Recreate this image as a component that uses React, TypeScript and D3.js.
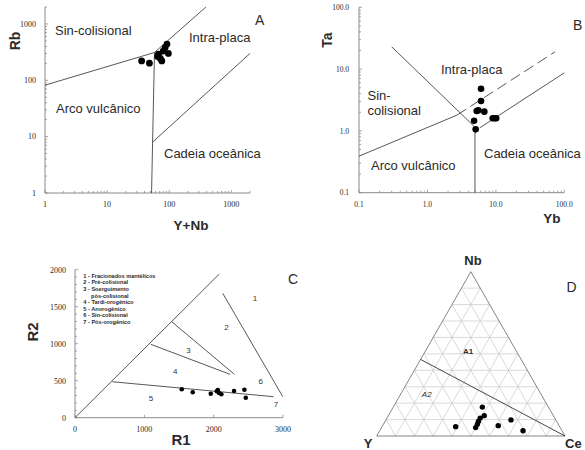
import React from 'react';
import * as d3 from 'd3';

// A: Rb vs Y+Nb
const yNbA = [36, 48, 65, 72, 76, 67, 86, 92, 97, 80];
const rbA = [221, 201, 265, 244, 221, 291, 384, 440, 300, 330];
const linesA: [number, number][][] = [
  [[1, 82], [58, 312]],
  [[58, 312], [390, 2000]],
  [[58, 312], [54, 8], [52, 1]],
  [[54, 8], [2000, 300]],
];

// B: Ta vs Yb
const ybB = [6.07, 6.07, 5.25, 5.54, 4.8, 5.07, 6.78, 9.0, 9.7, 10.1];
const taB = [4.82, 3.05, 2.1, 2.15, 1.46, 1.06, 2.05, 1.6, 1.6, 1.6];
const linesB: [number, number][][] = [
  [[0.1, 0.39], [2.7, 1.8]],
  [[0.3, 23], [4.9, 1.16]],
  [[4.95, 0.1], [4.95, 1.16]],
  [[5.8, 1.12], [100, 8.7]],
];
const dashedB: [number, number][] = [[2.7, 1.8], [73, 19]];

// C: R1-R2
const r1C = [1540, 1698, 1958, 2045, 2059, 2078, 2111, 2294, 2443, 2463];
const r2C = [384, 343, 324, 357, 374, 334, 316, 361, 378, 270];
const linesC: [number, number][][] = [
  [[0, 0], [2082, 1942]],
  [[2131, 1681], [2997, 284]],
  [[1395, 1297], [2299, 586]],
  [[1092, 992], [2237, 586]],
  [[538, 486], [2862, 284]],
];
const legendC = [
  '1 - Fracionados mantélicos',
  '2 - Pré-colisional',
  '3 - Soerguimento',
  '     pós-colisional',
  '4 - Tardi-orogênico',
  '5 - Anorogênico',
  '6 - Sin-colisional',
  '7 - Pós-orogênico',
];
const regionsC: [string, number, number][] = [
  ['1', 2595, 1580],
  ['2', 2185, 1180],
  ['3', 1638, 880],
  ['4', 1445, 590],
  ['5', 1095, 220],
  ['6', 2680, 450],
  ['7', 2900, 140],
];

// D: Nb-Y-Ce ternary
const nbD = [0.057, 0.051, 0.071, 0.088, 0.109, 0.124, 0.176, 0.063, 0.098, 0.032];
const ceD = [0.391, 0.5, 0.499, 0.496, 0.495, 0.509, 0.473, 0.614, 0.664, 0.761];
const boundaryD: [number, number][] = [[0.466, 0], [0, 1]]; // [nb, ce]

const SANS = '"Liberation Sans", Arial, sans-serif';
const SERIF = '"Liberation Serif", "Times New Roman", serif';
const AXIS = '#8a8a8a';
const INK = '#2a2a2a';
const TICK_FS = 8;

const isDecade = (v: number) => Math.abs(Math.log10(v) - Math.round(Math.log10(v))) < 1e-9;

function PanelA() {
  const x = d3.scaleLog().domain([1, 2000]).range([45, 250]);
  const y = d3.scaleLog().domain([1, 2000]).range([193, 7]);
  const line = d3.line<[number, number]>().x(d => x(d[0])).y(d => y(d[1]));
  const ticks = x.ticks();
  return (
    <g>
      <line x1={45} x2={250} y1={193} y2={193} stroke={AXIS} />
      <line x1={45} x2={45} y1={193} y2={7} stroke={AXIS} />
      {ticks.map(t => (
        <line key={'x' + t} x1={x(t)} x2={x(t)} y1={193} y2={isDecade(t) ? 190 : 191} stroke={AXIS} strokeWidth={0.8} />
      ))}
      {y.ticks().map(t => (
        <line key={'y' + t} x1={45} x2={isDecade(t) ? 48 : 47} y1={y(t)} y2={y(t)} stroke={AXIS} strokeWidth={0.8} />
      ))}
      {[1, 10, 100, 1000].map(t => (
        <text key={'xl' + t} x={x(t)} y={207} fontSize={TICK_FS} fontFamily={SERIF} textAnchor="middle" fill={INK}>{t}</text>
      ))}
      {[1, 10, 100, 1000].map(t => (
        <text key={'yl' + t} x={36} y={y(t) + 2.8} fontSize={TICK_FS} fontFamily={SERIF} textAnchor="end" fill={INK}>{t}</text>
      ))}
      {linesA.map((l, i) => (
        <path key={i} d={line(l) || ''} fill="none" stroke="#444" strokeWidth={0.9} />
      ))}
      {yNbA.map((v, i) => (
        <circle key={i} cx={x(v)} cy={y(rbA[i])} r={3.4} fill="#000" />
      ))}
      <g fontFamily={SANS} fontSize={13} fill={INK}>
        <text x={55} y={35}>Sin-colisional</text>
        <text x={189} y={42}>Intra-placa</text>
        <text x={56} y={113}>Arco vulcânico</text>
        <text x={164} y={158}>Cadeia oceânica</text>
      </g>
      <text x={255} y={25} fontFamily={SANS} fontSize={14} fill={INK}>A</text>
      <text transform="translate(20,41) rotate(-90)" textAnchor="middle" fontFamily={SANS} fontSize={14} fontWeight="bold" fill={INK}>Rb</text>
      <text x={191} y={230} textAnchor="middle" fontFamily={SANS} fontSize={13.5} fontWeight="bold" fill={INK}>Y+Nb</text>
    </g>
  );
}

function PanelB() {
  const x = d3.scaleLog().domain([0.1, 100]).range([359, 564.3]);
  const y = d3.scaleLog().domain([0.1, 100]).range([192.7, 7.3]);
  const line = d3.line<[number, number]>().x(d => x(d[0])).y(d => y(d[1]));
  const labels = [0.1, 1, 10, 100];
  return (
    <g>
      <line x1={359} x2={564.3} y1={192.7} y2={192.7} stroke={AXIS} />
      <line x1={359} x2={359} y1={192.7} y2={7.3} stroke={AXIS} />
      {x.ticks().map(t => (
        <line key={'x' + t} x1={x(t)} x2={x(t)} y1={192.7} y2={isDecade(t) ? 189.7 : 190.7} stroke={AXIS} strokeWidth={0.8} />
      ))}
      {y.ticks().map(t => (
        <line key={'y' + t} x1={359} x2={isDecade(t) ? 362 : 361} y1={y(t)} y2={y(t)} stroke={AXIS} strokeWidth={0.8} />
      ))}
      {labels.map(t => (
        <text key={'xl' + t} x={x(t)} y={207} fontSize={7.5} fontFamily={SERIF} textAnchor="middle" fill={INK}>{t.toFixed(1)}</text>
      ))}
      {labels.map(t => (
        <text key={'yl' + t} x={349} y={y(t) + 2.6} fontSize={7.5} fontFamily={SERIF} textAnchor="end" fill={INK}>{t.toFixed(1)}</text>
      ))}
      {linesB.map((l, i) => (
        <path key={i} d={line(l) || ''} fill="none" stroke="#444" strokeWidth={0.9} />
      ))}
      <path d={line(dashedB) || ''} fill="none" stroke="#444" strokeWidth={0.9} strokeDasharray="11,5" />
      {ybB.map((v, i) => (
        <circle key={i} cx={x(v)} cy={y(taB[i])} r={3.3} fill="#000" />
      ))}
      <g fontFamily={SANS} fontSize={13} fill={INK}>
        <text x={441} y={74}>Intra-placa</text>
        <text x={367.5} y={100}>Sin-</text>
        <text x={367.5} y={115}>colisional</text>
        <text x={371} y={170}>Arco vulcânico</text>
        <text x={484} y={158}>Cadeia oceânica</text>
      </g>
      <text x={573} y={30} fontFamily={SANS} fontSize={14} fill={INK}>B</text>
      <text transform="translate(332,40) rotate(-90)" textAnchor="middle" fontFamily={SANS} fontSize={14} fontWeight="bold" fill={INK}>Ta</text>
      <text x={552} y={223} textAnchor="middle" fontFamily={SANS} fontSize={13.5} fontWeight="bold" fill={INK}>Yb</text>
    </g>
  );
}

function PanelC() {
  const x = d3.scaleLinear().domain([0, 3000]).range([75, 283]);
  const y = d3.scaleLinear().domain([0, 2000]).range([417.7, 269.7]);
  const line = d3.line<[number, number]>().x(d => x(d[0])).y(d => y(d[1]));
  const xt = [0, 1000, 2000, 3000];
  const yt = [0, 500, 1000, 1500, 2000];
  const yMinor = d3.range(0, 2001, 100);
  return (
    <g>
      <line x1={75} x2={283} y1={417.7} y2={417.7} stroke={AXIS} />
      <line x1={75} x2={75} y1={417.7} y2={269.7} stroke={AXIS} />
      {yMinor.map(t => (
        <line key={'ym' + t} x1={75} x2={t % 500 === 0 ? 78 : 77} y1={y(t)} y2={y(t)} stroke={AXIS} strokeWidth={0.8} />
      ))}
      {xt.map(t => (
        <line key={'xm' + t} x1={x(t)} x2={x(t)} y1={417.7} y2={414.7} stroke={AXIS} strokeWidth={0.8} />
      ))}
      {xt.map(t => (
        <text key={'xl' + t} x={x(t)} y={432} fontSize={TICK_FS} fontFamily={SERIF} textAnchor="middle" fill={INK}>{t}</text>
      ))}
      {yt.map(t => (
        <text key={'yl' + t} x={66} y={y(t) + 2.8} fontSize={TICK_FS} fontFamily={SERIF} textAnchor="end" fill={INK}>{t}</text>
      ))}
      {linesC.map((l, i) => (
        <path key={i} d={line(l) || ''} fill="none" stroke="#444" strokeWidth={0.9} />
      ))}
      {r1C.map((v, i) => (
        <circle key={i} cx={x(v)} cy={y(r2C[i])} r={2.3} fill="#000" />
      ))}
      <g fontFamily={SANS} fontSize={5.6} fontWeight="bold" fill={INK}>
        {legendC.map((s, i) => (
          <text key={i} x={83.3} y={277.8 + i * 6.6} xmlSpace="preserve" style={{ whiteSpace: 'pre' }}>{s}</text>
        ))}
      </g>
      <g fontFamily={SANS} fontSize={8} fill="#333" textAnchor="middle">
        {regionsC.map(([s, a, b]) => (
          <text key={s} x={x(a)} y={y(b)}>{s}</text>
        ))}
      </g>
      <text x={288} y={284} fontFamily={SANS} fontSize={14} fill={INK}>C</text>
      <text transform="translate(38,332) rotate(-90)" textAnchor="middle" fontFamily={SANS} fontSize={15} fontWeight="bold" fill={INK}>R2</text>
      <text x={181} y={445} textAnchor="middle" fontFamily={SANS} fontSize={15} fontWeight="bold" fill={INK}>R1</text>
    </g>
  );
}

function PanelD() {
  const xs = d3.scaleLinear().domain([0, 1]).range([376.7, 565]);
  const ys = d3.scaleLinear().domain([0, 1]).range([436, 271.7]);
  const pt = (nb: number, ce: number): [number, number] => [xs(ce + nb / 2), ys(nb)];
  const grid: [number, number][][] = [];
  for (let i = 1; i < 10; i++) {
    const f = i / 10;
    grid.push([pt(f, 0), pt(f, 1 - f)]);
    grid.push([pt(0, f), pt(1 - f, f)]);
    grid.push([pt(0, 1 - f), pt(1 - f, 0)]);
  }
  const lineGen = d3.line<[number, number]>();
  const tri = [pt(0, 0), pt(1, 0), pt(0, 1), pt(0, 0)];
  return (
    <g>
      {grid.map((g, i) => (
        <path key={i} d={lineGen(g) || ''} stroke="#c8c8c8" strokeWidth={0.7} fill="none" />
      ))}
      <path d={lineGen(tri) || ''} stroke="#777" strokeWidth={0.9} fill="none" />
      <path d={lineGen(boundaryD.map(([a, b]) => pt(a, b))) || ''} stroke="#333" strokeWidth={0.9} fill="none" />
      {nbD.map((v, i) => {
        const [cx, cy] = pt(v, ceD[i]);
        return <circle key={i} cx={cx} cy={cy} r={2.7} fill="#000" />;
      })}
      <text x={468} y={353.5} textAnchor="middle" fontFamily={SANS} fontSize={8} fontWeight="bold" fill={INK}>A1</text>
      <text x={426.7} y={397} textAnchor="middle" fontFamily={SANS} fontSize={8} fontStyle="italic" fill={INK}>A2</text>
      <text x={473} y={264.5} textAnchor="middle" fontFamily={SANS} fontSize={13} fontWeight="bold" fill={INK}>Nb</text>
      <text x={368} y={448} textAnchor="middle" fontFamily={SANS} fontSize={13} fontWeight="bold" fill={INK}>Y</text>
      <text x={565} y={448} fontFamily={SANS} fontSize={13} fontWeight="bold" fill={INK}>Ce</text>
      <text x={566.5} y={292} fontFamily={SANS} fontSize={14} fill={INK}>D</text>
    </g>
  );
}

export default function App() {
  return (
    <svg
      width={585}
      height={450}
      viewBox="0 0 585 450"
      style={{ position: 'absolute', left: 0, top: 0, background: '#fff' }}
    >
      <rect width={585} height={450} fill="#fff" />
      <PanelA />
      <PanelB />
      <PanelC />
      <PanelD />
    </svg>
  );
}
